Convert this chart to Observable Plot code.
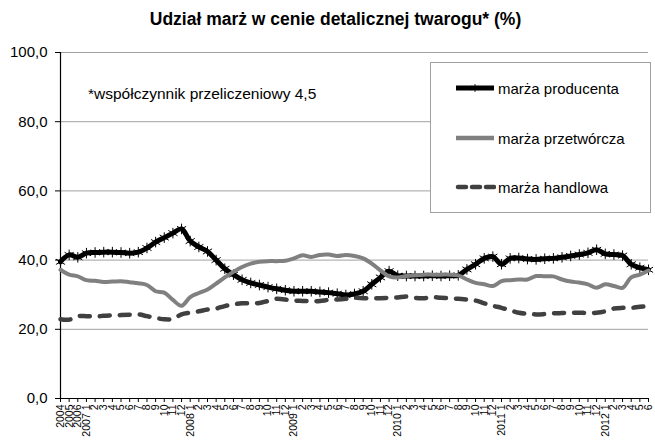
<!DOCTYPE html>
<html>
<head>
<meta charset="utf-8">
<script src="https://cdn.jsdelivr.net/npm/d3@7"></script>
<script src="https://cdn.jsdelivr.net/npm/@observablehq/plot@0.6"></script>
<style>
  html, body { margin: 0; padding: 0; background: #fff; }
  body { width: 655px; height: 445px; position: relative; overflow: hidden; font-family: "Liberation Sans", Arial, sans-serif; }
  #title { height: 36px; box-sizing: border-box; padding-top: 9px; text-align: center; padding-left: 16px; font-weight: bold; font-size: 17.5px; color: #000; line-height: 20px; }
  #note { position: absolute; left: 88px; top: 85px; font-size: 15.5px; color: #000; }
  #legend { position: absolute; left: 430px; top: 62px; width: 219px; height: 149px; border: 1px solid #a0a0a0; background: #fff; }
  .item { position: absolute; left: 23px; height: 20px; display: flex; align-items: center; font-size: 15px; }
  .item svg { margin-right: 2px; }
</style>
</head>
<body>
<div id="title">Udział marż w cenie detalicznej twarogu* (%)</div>
<div id="chart"></div>
<div id="note">*współczynnik przeliczeniowy 4,5</div>
<div id="legend"></div>
<script>
const categories = [
  "2004","2005","2006",
  "2007 1","2","3","4","5","6","7","8","9","10","11","12",
  "2008 1","2","3","4","5","6","7","8","9","10","11","12",
  "2009 1","2","3","4","5","6","7","8","9","10","11","12",
  "2010 1","2","3","4","5","6","7","8","9","10","11","12",
  "2011 1","2","3","4","5","6","7","8","9","10","11","12",
  "2012 1","2","3","4","5","6"
];
const producenta = [
  39.5,41.5,40.8,
  42.0,42.2,42.3,42.3,42.2,42.0,42.3,43.5,45.2,46.5,47.8,49.0,
  45.5,43.8,42.5,40.0,37.5,35.8,34.3,33.4,32.8,32.2,31.7,31.3,
  31.0,31.0,31.0,30.8,30.6,30.3,29.9,30.2,31.0,33.0,35.0,36.8,
  35.5,35.4,35.4,35.4,35.5,35.4,35.5,35.6,37.3,38.8,40.5,41.0,
  38.8,40.5,40.6,40.3,40.2,40.4,40.5,40.8,41.2,41.6,42.1,43.0,
  41.8,41.6,41.3,38.8,37.8,37.2
];
const przetworcza = [
  37.2,35.8,35.3,
  34.2,34.0,33.7,33.8,33.9,33.6,33.3,32.8,31.0,30.6,28.5,26.8,
  29.3,30.5,31.5,33.2,35.0,36.6,38.0,39.0,39.5,39.7,39.7,39.8,
  40.5,41.4,40.9,41.5,41.6,41.2,41.5,41.2,40.5,39.0,37.0,35.3,
  35.0,35.4,35.6,35.8,35.8,35.8,35.8,35.6,34.4,33.4,33.0,32.5,
  33.9,34.2,34.4,34.4,35.4,35.3,35.3,34.4,33.8,33.5,33.0,32.0,
  33.0,32.5,32.0,35.0,35.8,37.0
];
const handlowa = [
  22.9,22.8,23.8,
  23.8,23.7,23.9,24.0,24.1,24.2,24.3,23.8,23.3,22.9,23.0,24.3,
  24.8,25.2,25.7,26.0,26.7,27.2,27.5,27.5,27.6,28.2,28.8,28.6,
  28.3,28.2,28.1,28.2,28.5,28.6,28.8,29.1,29.0,28.9,29.0,29.1,
  29.2,29.5,29.1,29.0,29.3,29.1,29.0,28.8,28.6,28.3,27.5,26.8,
  26.2,25.5,24.8,24.5,24.3,24.4,24.6,24.7,24.8,24.8,24.7,24.8,
  25.2,26.0,26.2,26.2,26.5,26.6
];
const seriesNames = ["marża producenta", "marża przetwórcza", "marża handlowa"];
const yTicks = [0, 20, 40, 60, 80, 100];

const idx = categories.map((_, i) => i);
const rowsP = idx.map(i => ({i, v: producenta[i]}));
const rowsG = idx.map(i => ({i, v: przetworcza[i]}));
const rowsH = idx.map(i => ({i, v: handlowa[i]}));
const fmt = d => d.toFixed(1).replace(".", ",");

const chart = Plot.plot({
  width: 655,
  height: 409,
  marginTop: 16,
  marginBottom: 47,
  marginLeft: 60,
  marginRight: 7,
  style: {fontFamily: "'Liberation Sans', Arial, sans-serif", color: "#000", background: "#fff"},
  x: {type: "linear", domain: [0, categories.length - 1]},
  y: {domain: [0, 100]},
  marks: [
    Plot.gridY(yTicks.filter(d => d > 0), {stroke: "#a0a0a0", strokeOpacity: 1, strokeWidth: 1}),
    Plot.axisY({ticks: yTicks, tickFormat: fmt, tickSize: 5, tickPadding: 8, fontSize: 15, label: null, stroke: "#000"}),
    Plot.axisX({ticks: idx, tickFormat: i => categories[i], tickRotate: -90, tickSize: 4, tickPadding: 2, fontSize: 10.5, label: null, stroke: "#000"}),
    Plot.ruleX([0], {stroke: "#000", strokeWidth: 1.2}),
    Plot.ruleY([0], {stroke: "#000", strokeWidth: 1.2}),
    Plot.line(rowsP, {x: "i", y: "v", stroke: "#000", strokeWidth: 5, curve: "catmull-rom"}),
    Plot.dot(rowsP, {x: "i", y: "v", symbol: "asterisk", r: 5, stroke: "#000", strokeWidth: 1}),
    Plot.line(rowsG, {x: "i", y: "v", stroke: "#808080", strokeWidth: 4, curve: "catmull-rom"}),
    Plot.line(rowsH, {x: "i", y: "v", stroke: "#404040", strokeWidth: 4.5, strokeDasharray: "10,10", strokeLinecap: "round", curve: "catmull-rom"})
  ]
});
document.getElementById("chart").appendChild(chart);

const legend = document.getElementById("legend");
const samples = [
  `<svg width="42" height="14"><line x1="2" y1="7" x2="40" y2="7" stroke="#000" stroke-width="5"/><path transform="translate(21,7)" d="${d3.symbol(d3.symbolAsterisk, 40)()}" stroke="#000" stroke-width="1" fill="none"/></svg>`,
  `<svg width="42" height="14"><line x1="2" y1="7" x2="40" y2="7" stroke="#808080" stroke-width="4.5"/></svg>`,
  `<svg width="42" height="14"><line x1="4" y1="7" x2="40" y2="7" stroke="#404040" stroke-width="4.5" stroke-dasharray="8,6" stroke-linecap="round"/></svg>`
];
const tops = [15, 65, 114];
seriesNames.forEach((name, k) => {
  const d = document.createElement("div");
  d.className = "item";
  d.style.top = tops[k] + "px";
  d.innerHTML = samples[k] + "<span>" + name + "</span>";
  legend.appendChild(d);
});
</script>
</body>
</html>
